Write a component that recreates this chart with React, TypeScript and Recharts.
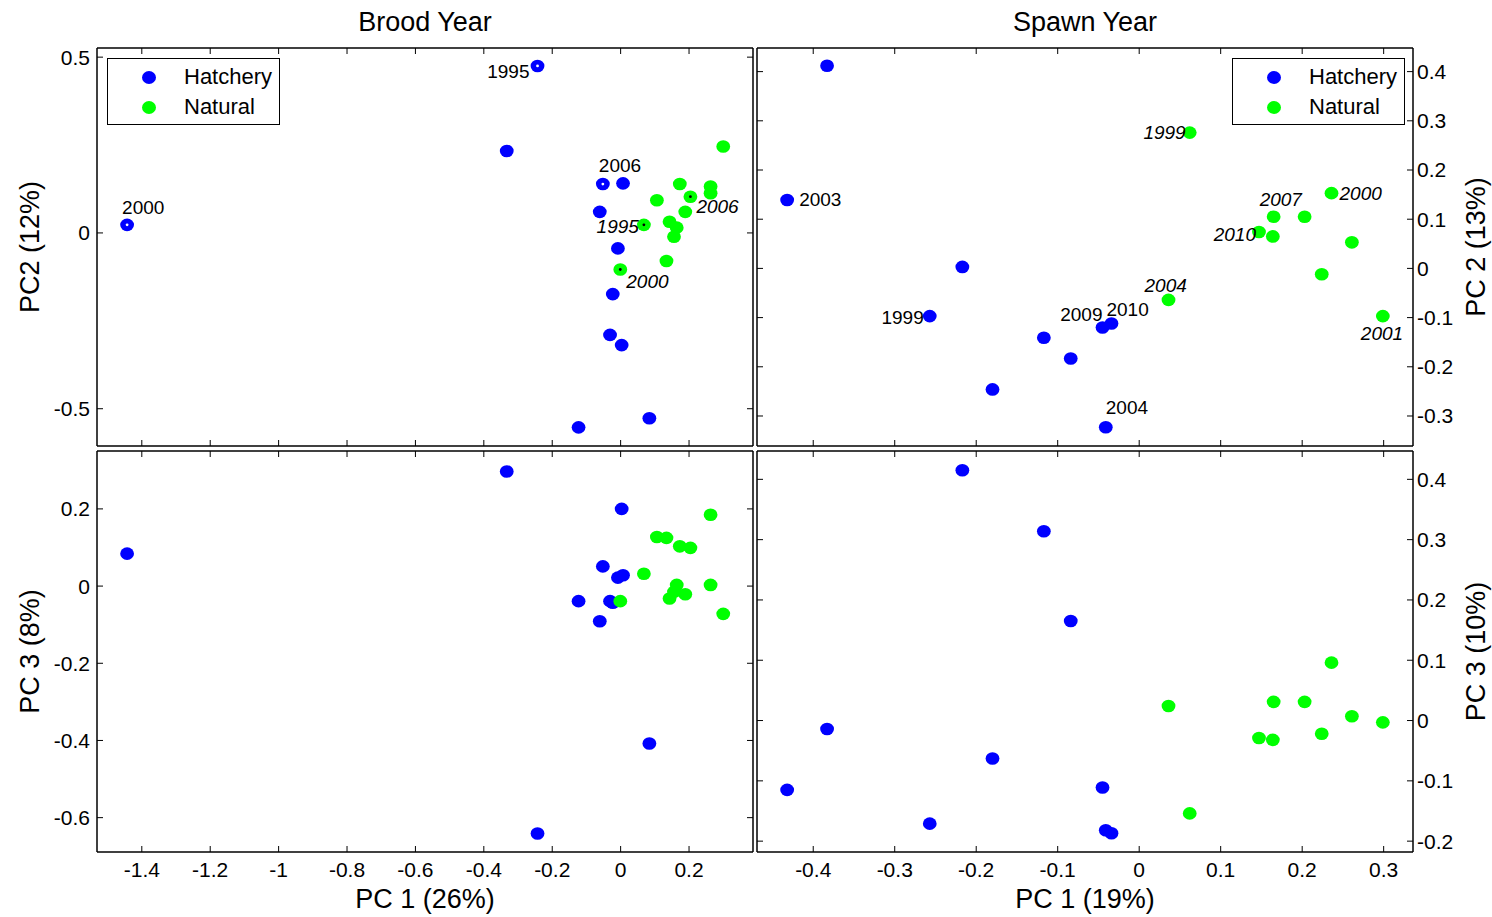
import React from 'react';
import { ScatterChart, Scatter, XAxis, YAxis, Legend } from 'recharts';

// Brood year scores
const byHatchPC1 = [-0.243, -0.333, -1.443, -0.052, 0.007, -0.061, -0.008, -0.023, -0.031, 0.003, -0.123, 0.084];
const byHatchPC2 = [0.475, 0.233, 0.023, 0.139, 0.141, 0.06, -0.044, -0.174, -0.29, -0.319, -0.553, -0.527];
const byHatchPC3 = [-0.641, 0.297, 0.084, 0.051, 0.028, -0.091, 0.022, -0.043, -0.039, 0.2, -0.039, -0.408];
const byHatchYears = ['1995', '', '2000', '2006', '', '', '', '', '', '', '', ''];

const byNatPC1 = [0.3, 0.173, 0.263, 0.263, 0.204, 0.106, 0.189, 0.068, 0.143, 0.164, 0.156, 0.134, -0.001];
const byNatPC2 = [0.246, 0.139, 0.132, 0.113, 0.103, 0.093, 0.06, 0.023, 0.032, 0.015, -0.011, -0.08, -0.104];
const byNatPC3 = [-0.072, 0.103, 0.185, 0.003, 0.099, 0.127, -0.021, 0.032, -0.032, 0.003, -0.015, 0.125, -0.039];
const byNatYears = ['', '', '', '', '2006', '', '', '1995', '', '', '', '', '2000'];

// Spawn year scores
const syHatchPC1 = [-0.383, -0.432, -0.217, -0.257, -0.117, -0.084, -0.18, -0.045, -0.034, -0.041];
const syHatchPC2 = [0.412, 0.139, 0.003, -0.097, -0.141, -0.183, -0.246, -0.12, -0.112, -0.323];
const syHatchPC3 = [-0.014, -0.115, 0.415, -0.171, 0.314, 0.165, -0.063, -0.111, -0.187, -0.182];
const syHatchYears = ['', '2003', '', '1999', '', '', '', '2009', '2010', '2004'];

const syNatPC1 = [0.062, 0.236, 0.165, 0.203, 0.147, 0.164, 0.261, 0.224, 0.036, 0.299];
const syNatPC2 = [0.276, 0.153, 0.105, 0.105, 0.074, 0.065, 0.053, -0.012, -0.064, -0.097];
const syNatPC3 = [-0.154, 0.096, 0.031, 0.031, -0.029, -0.032, 0.007, -0.022, 0.024, -0.003];
const syNatYears = ['1999', '2000', '2007', '', '2010', '', '', '', '2004', '2001'];

const broodXTicks = [-1.4, -1.2, -1, -0.8, -0.6, -0.4, -0.2, 0, 0.2];
const spawnXTicks = [-0.4, -0.3, -0.2, -0.1, 0, 0.1, 0.2, 0.3];
const broodPC2Ticks = [-0.5, 0, 0.5];
const broodPC3Ticks = [-0.6, -0.4, -0.2, 0, 0.2];
const spawnPC2Ticks = [-0.3, -0.2, -0.1, 0, 0.1, 0.2, 0.3, 0.4];
const spawnPC3Ticks = [-0.2, -0.1, 0, 0.1, 0.2, 0.3, 0.4];

// where the year text sits relative to its point: [dx, dy, anchor]
type Place = [number, number, 'start' | 'end'];
const byHatchTextPos: Record<number, Place> = { 0: [-8, 12, 'end'], 2: [-5, -11, 'start'], 3: [-4, -12, 'start'] };
const byNatTextPos: Record<number, Place> = { 4: [6, 16, 'start'], 7: [-5, 8, 'end'], 12: [6, 18, 'start'] };
const syHatchTextPos: Record<number, Place> = {
  1: [12, 6, 'start'], 3: [-6, 8, 'end'], 7: [0, -6, 'end'], 8: [-5, -8, 'start'], 9: [0, -13, 'start'],
};
const syNatTextPos: Record<number, Place> = {
  0: [-4, 6, 'end'], 1: [8, 7, 'start'], 2: [-14, -11, 'start'], 4: [-3, 9, 'end'], 8: [-24, -8, 'start'], 9: [-22, 24, 'start'],
};

const BLUE = '#0000ff';
const GREEN = '#00ff00';
const FONT = '"Liberation Sans", Arial, sans-serif';

type Pt = { x: number; y: number; year: string; italic: boolean; dx: number; dy: number; anchor: string };

function points(xs: number[], ys: number[], years: string[], place: Record<number, Place>, italic: boolean): Pt[] {
  return xs.map((x, i) => {
    const p = place[i] || [0, 0, 'start'];
    return { x, y: ys[i], year: years[i], italic, dx: p[0], dy: p[1], anchor: p[2] };
  });
}

const marker = (color: string, dotColor: string | null) => (p: any) => (
  <g>
    <ellipse cx={p.cx} cy={p.cy} rx={6.9} ry={6.3} fill={color} />
    {dotColor && p.payload.year ? <circle cx={p.cx} cy={p.cy} r={1.4} fill={dotColor} /> : null}
  </g>
);

const yearText = (p: any) => {
  const d = p.payload as Pt;
  return (
    <text
      x={p.cx + d.dx}
      y={p.cy + d.dy}
      textAnchor={d.anchor}
      fontSize={19}
      fontStyle={d.italic ? 'italic' : 'normal'}
      fill="#000"
    >
      {d.year}
    </text>
  );
};

const legendBox = (props: any) => (
  <div
    style={{
      width: 173,
      height: 67,
      border: '1px solid #000',
      boxSizing: 'border-box',
      background: '#fff',
      position: 'relative',
      fontFamily: FONT,
    }}
  >
    {(props.payload || [])
      .filter((e: any) => e.type !== 'none' && e.value !== 'years')
      .map((e: any, i: number) => (
        <div
          key={e.value}
          style={{ position: 'absolute', left: 0, top: 3 + i * 30, height: 30, display: 'flex', alignItems: 'center' }}
        >
          <span
            style={{ display: 'inline-block', width: 14, height: 13, borderRadius: '50%', background: e.color, marginLeft: 34 }}
          />
          <span style={{ marginLeft: 28, fontSize: 22, color: '#000' }}>{e.value}</span>
        </div>
      ))}
  </div>
);

const noLabel = () => <g />;
const frameLine = { stroke: '#000', strokeWidth: 1.5 };
const tickLn = { stroke: '#000', strokeWidth: 1 };
const tickFont = { fontSize: 21, fill: '#000' };
const labelFont = { fontSize: 27, fill: '#000' };

interface PanelProps {
  left: number;
  top: number;
  width: number;
  height: number;
  margin: { top: number; right: number; bottom: number; left: number };
  xDomain: [number, number];
  xTicks: number[];
  yDomain: [number, number];
  yTicks: number[];
  ySide: 'left' | 'right';
  yLabel: string;
  xLabel?: string;
  title?: string;
  hatch: Pt[];
  nat: Pt[];
  dots?: boolean;
  legendAt?: { left: number; top: number };
}

function Panel(p: PanelProps) {
  const labelled = [...p.hatch, ...p.nat].filter((d) => d.year);
  const xId = p.xLabel ? 'x' : 'fb';
  return (
    <div style={{ position: 'absolute', left: p.left, top: p.top }}>
      <ScatterChart width={p.width} height={p.height} margin={p.margin}>
        {/* box with inward ticks on all four sides */}
        <XAxis xAxisId="fb" type="number" dataKey="x" domain={p.xDomain} ticks={p.xTicks} allowDataOverflow
          orientation="bottom" mirror tick={noLabel} tickSize={6} axisLine={frameLine} tickLine={tickLn} interval={0} />
        <XAxis xAxisId="ft" type="number" dataKey="x" domain={p.xDomain} ticks={p.xTicks} allowDataOverflow
          orientation="top" mirror tick={noLabel} tickSize={6} axisLine={frameLine} tickLine={tickLn} interval={0}
          label={p.title ? { value: p.title, position: 'top', offset: 17, style: labelFont } : undefined} />
        <YAxis yAxisId="fl" type="number" dataKey="y" domain={p.yDomain} ticks={p.yTicks} allowDataOverflow
          orientation="left" mirror tick={noLabel} tickSize={6} axisLine={frameLine} tickLine={tickLn} interval={0} />
        <YAxis yAxisId="fr" type="number" dataKey="y" domain={p.yDomain} ticks={p.yTicks} allowDataOverflow
          orientation="right" mirror tick={noLabel} tickSize={6} axisLine={frameLine} tickLine={tickLn} interval={0} />
        {p.xLabel ? (
          <XAxis xAxisId="x" type="number" dataKey="x" domain={p.xDomain} ticks={p.xTicks} allowDataOverflow
            orientation="bottom" height={65} interval={0} tickLine={false} axisLine={false} tickSize={0}
            tickMargin={10} tick={tickFont}
            label={{ value: p.xLabel, position: 'insideBottom', offset: 9, style: labelFont }} />
        ) : null}
        <YAxis yAxisId="y" type="number" dataKey="y" domain={p.yDomain} ticks={p.yTicks} allowDataOverflow
          orientation={p.ySide} width={p.ySide === 'left' ? 97 : 79} interval={0} tickLine={false}
          axisLine={false} tickSize={0} tickMargin={p.ySide === 'left' ? 7 : 4} tick={tickFont}
          label={{
            value: p.yLabel,
            angle: -90,
            position: p.ySide === 'left' ? 'insideLeft' : 'insideRight',
            offset: p.ySide === 'left' ? 29 : 17,
            style: { ...labelFont, textAnchor: 'middle' },
          }} />
        <Scatter name="Hatchery" data={p.hatch} xAxisId={xId} yAxisId="y" fill={BLUE}
          shape={marker(BLUE, p.dots ? '#fff' : null)} isAnimationActive={false} />
        <Scatter name="Natural" data={p.nat} xAxisId={xId} yAxisId="y" fill={GREEN}
          shape={marker(GREEN, p.dots ? '#000' : null)} isAnimationActive={false} />
        <Scatter name="years" data={labelled} xAxisId={xId} yAxisId="y" legendType="none"
          shape={yearText} isAnimationActive={false} />
        {p.legendAt ? (
          <Legend layout="vertical" align="center" verticalAlign="middle"
            wrapperStyle={{ left: p.legendAt.left, top: p.legendAt.top }} content={legendBox} />
        ) : null}
      </ScatterChart>
    </div>
  );
}

export default function App() {
  const leftX: [number, number] = [-1.531, 0.387];
  const rightX: [number, number] = [-0.469, 0.336];
  return (
    <div style={{ position: 'absolute', left: 0, top: 0, width: 1492, height: 917, background: '#fff', fontFamily: FONT }}>
      <Panel
        left={0} top={0} width={757} height={450}
        margin={{ top: 48, right: 4, bottom: 4, left: 0 }}
        xDomain={leftX} xTicks={broodXTicks}
        yDomain={[-0.606, 0.526]} yTicks={broodPC2Ticks}
        ySide="left" yLabel="PC2 (12%)" title="Brood Year"
        hatch={points(byHatchPC1, byHatchPC2, byHatchYears, byHatchTextPos, false)}
        nat={points(byNatPC1, byNatPC2, byNatYears, byNatTextPos, true)}
        dots legendAt={{ left: 107, top: 58 }}
      />
      <Panel
        left={755} top={0} width={737} height={450}
        margin={{ top: 48, right: 0, bottom: 4, left: 2 }}
        xDomain={rightX} xTicks={spawnXTicks}
        yDomain={[-0.361, 0.448]} yTicks={spawnPC2Ticks}
        ySide="right" yLabel="PC 2 (13%)" title="Spawn Year"
        hatch={points(syHatchPC1, syHatchPC2, syHatchYears, syHatchTextPos, false)}
        nat={points(syNatPC1, syNatPC2, syNatYears, syNatTextPos, true)}
        legendAt={{ left: 477, top: 58 }}
      />
      <Panel
        left={0} top={448} width={757} height={469}
        margin={{ top: 3, right: 4, bottom: 0, left: 0 }}
        xDomain={leftX} xTicks={broodXTicks}
        yDomain={[-0.689, 0.35]} yTicks={broodPC3Ticks}
        ySide="left" yLabel="PC 3 (8%)" xLabel="PC 1 (26%)"
        hatch={points(byHatchPC1, byHatchPC3, byHatchYears.map(() => ''), {}, false)}
        nat={points(byNatPC1, byNatPC3, byNatYears.map(() => ''), {}, true)}
      />
      <Panel
        left={755} top={448} width={737} height={469}
        margin={{ top: 3, right: 0, bottom: 0, left: 2 }}
        xDomain={rightX} xTicks={spawnXTicks}
        yDomain={[-0.218, 0.447]} yTicks={spawnPC3Ticks}
        ySide="right" yLabel="PC 3 (10%)" xLabel="PC 1 (19%)"
        hatch={points(syHatchPC1, syHatchPC3, syHatchYears.map(() => ''), {}, false)}
        nat={points(syNatPC1, syNatPC3, syNatYears.map(() => ''), {}, true)}
      />
    </div>
  );
}
